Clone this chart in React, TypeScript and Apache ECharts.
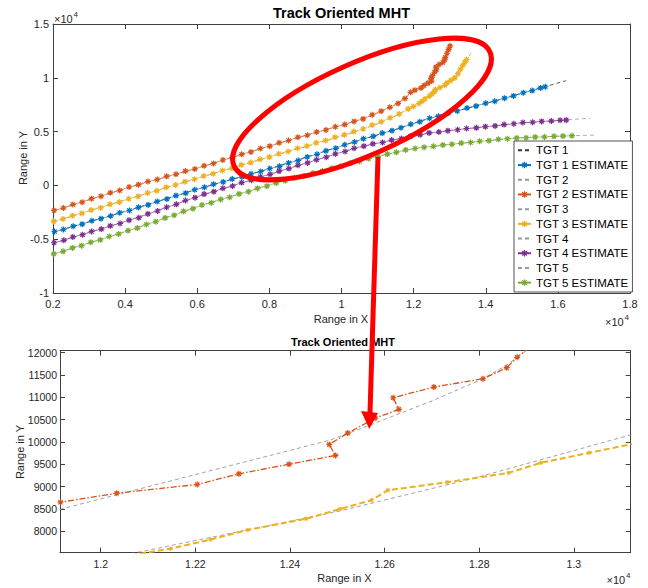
import React, { useEffect, useRef } from 'react';
import * as echarts from 'echarts';

// ---------- DATA ----------
// Truth trajectories
const tgt1X = [2000, 4000, 6000, 8000, 10000, 11500, 12500, 13500, 14500, 15500, 16222];
const tgt1Y = [-4350, -2420, -350, 1540, 3680, 5200, 6330, 7190, 8080, 9040, 9731];
const tgt2X = [2000, 4000, 6000, 8000, 9000, 10000, 10500, 11000, 11500, 11915, 12200, 12485, 12569, 12700, 12808, 12858, 12930, 12995];
const tgt2Y = [-2380, -300, 1600, 3650, 4650, 5600, 6080, 6700, 7530, 8494, 9270, 10042, 10378, 10920, 11417, 11724, 12280, 13100];
const tgt3X = [2000, 4000, 6000, 8000, 10000, 11000, 11500, 12076, 12506, 12787, 13118, 13350, 13587];
const tgt3Y = [-3400, -1350, 650, 2650, 4550, 5700, 6450, 7523, 8456, 9183, 10154, 11100, 12277];
const tgt4X = [2000, 4000, 6000, 8000, 10000, 11000, 12000, 13000, 14000, 15000, 16000, 16896];
const tgt4Y = [-5400, -3350, -1050, 1000, 3100, 3950, 4600, 5100, 5450, 5800, 6050, 6236];
const tgt5X = [2000, 4000, 6000, 8000, 10000, 11000, 12000, 13000, 14000, 15000, 16000, 17082];
const tgt5Y = [-6400, -4300, -1980, 80, 1850, 2700, 3420, 3800, 4150, 4430, 4580, 4684];

// Estimates
const est1X = [2040, 2290, 2560, 2810, 3080, 3330, 3600, 3850, 4120, 4370, 4640, 4890, 5160, 5410, 5680, 5930, 6200, 6450, 6720, 6970, 7240, 7490, 7760, 8010, 8280, 8530, 8800, 9050, 9320, 9570, 9840, 10090, 10360, 10610, 10880, 11130, 11400, 11650, 11920, 12170, 12440, 12690, 12960, 13210, 13480, 13730, 14000, 14250, 14520, 14770, 15040, 15290, 15520, 15650];
const est1Y = [-4290, -4100, -3790, -3600, -3280, -3090, -2840, -2540, -2330, -2040, -1810, -1490, -1260, -950, -720, -400, -170, 110, 320, 600, 800, 1080, 1290, 1570, 1770, 2080, 2320, 2640, 2890, 3210, 3450, 3780, 4030, 4340, 4560, 4860, 5090, 5360, 5690, 5920, 6240, 6430, 6720, 6920, 7190, 7370, 7640, 7820, 8110, 8320, 8610, 8810, 9060, 9170];
const est2X = [2030, 2290, 2550, 2810, 3070, 3330, 3590, 3850, 4110, 4370, 4630, 4890, 5150, 5410, 5670, 5930, 6190, 6450, 6710, 6970, 7230, 7490, 7750, 8010, 8270, 8530, 8790, 9050, 9310, 9570, 9830, 10090, 10350, 10600, 10850, 11100, 11340, 11570, 11760, 11915, 12034, 12204, 12292, 12398, 12496, 12483, 12522, 12580, 12630, 12618, 12704, 12808, 12858, 12880, 12925, 12970, 13010];
const est2Y = [-2330, -2100, -1780, -1560, -1230, -1010, -690, -470, -150, 70, 360, 550, 840, 1030, 1330, 1520, 1820, 2040, 2360, 2580, 2890, 3110, 3430, 3650, 3960, 4170, 4470, 4660, 4960, 5150, 5450, 5650, 5950, 6180, 6560, 6900, 7260, 7620, 8080, 8651, 8853, 9048, 9286, 9503, 9698, 9945, 10199, 10535, 10730, 10991, 11231, 11417, 11664, 11897, 12280, 12640, 12960];
const est3X = [2020, 2280, 2540, 2800, 3060, 3320, 3580, 3840, 4100, 4360, 4620, 4880, 5140, 5400, 5660, 5920, 6180, 6440, 6700, 6960, 7220, 7480, 7740, 8000, 8260, 8520, 8780, 9040, 9300, 9560, 9820, 10080, 10340, 10600, 10850, 11100, 11350, 11600, 11850, 11990, 12148, 12232, 12311, 12434, 12506, 12572, 12607, 12732, 12862, 12930, 13032, 13140, 13230, 13300, 13360, 13420, 13470];
const est3Y = [-3340, -3120, -2810, -2600, -2280, -2070, -1760, -1550, -1240, -1020, -710, -490, -180, 40, 350, 570, 880, 1090, 1390, 1600, 1910, 2120, 2420, 2630, 2940, 3150, 3450, 3660, 3970, 4180, 4480, 4700, 5000, 5240, 5620, 5910, 6290, 6640, 7110, 7330, 7610, 7814, 8030, 8280, 8500, 8696, 8920, 9099, 9308, 9533, 9757, 9990, 10380, 10800, 11150, 11450, 11700];
const est4X = [2030, 2300, 2550, 2820, 3070, 3340, 3590, 3860, 4110, 4380, 4630, 4900, 5150, 5420, 5670, 5940, 6190, 6460, 6710, 6980, 7230, 7500, 7750, 8020, 8270, 8540, 8790, 9060, 9310, 9580, 9830, 10100, 10350, 10620, 10870, 11140, 11390, 11660, 11910, 12180, 12430, 12700, 12950, 13220, 13470, 13740, 13990, 14260, 14510, 14780, 15030, 15300, 15550, 15820, 16060, 16230];
const est4Y = [-5330, -5100, -4800, -4580, -4280, -4060, -3760, -3540, -3230, -3000, -2650, -2380, -2030, -1760, -1410, -1140, -810, -580, -270, -50, 260, 490, 800, 1030, 1330, 1560, 1870, 2090, 2390, 2620, 2930, 3150, 3450, 3650, 3860, 3990, 4210, 4350, 4560, 4700, 4880, 4960, 5090, 5170, 5290, 5350, 5460, 5530, 5650, 5730, 5840, 5870, 5950, 5980, 6050, 6070];
const est5X = [2020, 2280, 2540, 2790, 3050, 3310, 3560, 3820, 4080, 4340, 4590, 4850, 5110, 5360, 5620, 5880, 6130, 6390, 6650, 6900, 7160, 7420, 7670, 7930, 8190, 8440, 8700, 8960, 9210, 9470, 9730, 9980, 10240, 10500, 10750, 11010, 11270, 11520, 11780, 12040, 12290, 12550, 12810, 13060, 13320, 13580, 13830, 14090, 14350, 14600, 14860, 15120, 15370, 15630, 15890, 16140, 16390];
const est5Y = [-6360, -6130, -5810, -5600, -5280, -5060, -4750, -4520, -4200, -3970, -3630, -3370, -3020, -2770, -2410, -2160, -1820, -1610, -1300, -1100, -790, -580, -280, -70, 230, 430, 700, 880, 1150, 1330, 1600, 1770, 2050, 2230, 2490, 2680, 2910, 3070, 3300, 3430, 3550, 3630, 3760, 3820, 3930, 3990, 4100, 4160, 4280, 4340, 4410, 4430, 4490, 4500, 4560, 4580, 4620];

const truthNames = ['TGT 1', 'TGT 2', 'TGT 3', 'TGT 4', 'TGT 5'];
const estNames = ['TGT 1 ESTIMATE', 'TGT 2 ESTIMATE', 'TGT 3 ESTIMATE', 'TGT 4 ESTIMATE', 'TGT 5 ESTIMATE'];

// Bottom (zoomed) axis ticks
const bottomXTicks = [12000, 12200, 12400, 12600, 12800, 13000];
const bottomYTicks = [8000, 8500, 9000, 9500, 10000, 10500, 11000, 11500, 12000];

// ---------- STYLE ----------
const FONT = '"Liberation Sans", Arial, Helvetica, sans-serif';
const COLORS = ['#0072BD', '#D95319', '#EDB120', '#7E2F8E', '#77AC30'];
const STAR =
  'path://M-1,-0.2L1,-0.2L1,0.2L-1,0.2Z M0.2,-1L0.2,1L-0.2,1L-0.2,-1Z M-0.566,-0.848L0.848,0.566L0.566,0.848L-0.848,-0.566Z M-0.848,0.566L0.566,-0.848L0.848,-0.566L-0.566,0.848Z';
const AX = { color: '#404040', width: 1 };

const zip = (xs: number[], ys: number[]) => xs.map((x, i) => [x, ys[i]]);

const truthX = [tgt1X, tgt2X, tgt3X, tgt4X, tgt5X];
const truthY = [tgt1Y, tgt2Y, tgt3Y, tgt4Y, tgt5Y];
const estX = [est1X, est2X, est3X, est4X, est5X];
const estY = [est1Y, est2Y, est3Y, est4Y, est5Y];

export default function App() {
  const ref = useRef<HTMLDivElement>(null);

  useEffect(() => {
    const chart = echarts.init(ref.current!, null, { renderer: 'svg' });

    const series: any[] = [];
    const legendData: string[] = [];
    for (let k = 0; k < 5; k++) {
      legendData.push(truthNames[k], estNames[k]);
      series.push({
        type: 'line',
        name: truthNames[k],
        xAxisIndex: 0,
        yAxisIndex: 0,
        data: zip(truthX[k], truthY[k]),
        symbol: 'none',
        silent: true,
        itemStyle: { color: 'rgba(0,0,0,0)' },
        lineStyle: { color: k === 0 ? '#333333' : '#9a9a9a', width: 0.8, type: [4, 3] },
        z: 2,
      });
      series.push({
        type: 'line',
        name: estNames[k],
        xAxisIndex: 0,
        yAxisIndex: 0,
        data: zip(estX[k], estY[k]),
        symbol: STAR,
        symbolSize: 6,
        showSymbol: true,
        itemStyle: { color: COLORS[k] },
        lineStyle: { color: COLORS[k], width: 0.6 },
        z: 3,
      });
    }

    // bottom zoomed plot: targets 2 and 3
    series.push({
      type: 'line', name: 'z-truth2', xAxisIndex: 2, yAxisIndex: 2,
      data: zip(tgt2X, tgt2Y), symbol: 'none', silent: true,
      lineStyle: { color: '#8c8c8c', width: 0.8, type: [4, 3] }, z: 2,
    });
    series.push({
      type: 'line', name: 'z-truth3', xAxisIndex: 2, yAxisIndex: 2,
      data: zip(tgt3X, tgt3Y), symbol: 'none', silent: true,
      lineStyle: { color: '#8c8c8c', width: 0.8, type: [4, 3] }, z: 2,
    });
    series.push({
      type: 'line', name: 'z-est2', xAxisIndex: 2, yAxisIndex: 2,
      data: zip(est2X, est2Y), symbol: STAR, symbolSize: 6,
      itemStyle: { color: COLORS[1] },
      lineStyle: { color: COLORS[1], width: 1.3, type: [6, 2, 1.5, 2] }, z: 3,
    });
    series.push({
      type: 'line', name: 'z-est3', xAxisIndex: 2, yAxisIndex: 2,
      data: zip(est3X, est3Y), symbol: STAR, symbolSize: 4.5,
      itemStyle: { color: COLORS[2] },
      lineStyle: { color: COLORS[2], width: 2, type: [6, 3] }, z: 3,
    });

    const label = (extra: any) => ({ color: '#262626', fontSize: 11, fontFamily: FONT, ...extra });
    const txt = (text: string, x: number, y: number, size: number, extra: any = {}, el: any = {}) => ({
      type: 'text', x, y, z: 50, ...el,
      style: { text, fill: '#000', fontSize: size, fontFamily: FONT, align: 'center', verticalAlign: 'middle', ...extra },
    });

    const option: any = {
      animation: false,
      backgroundColor: '#ffffff',
      grid: [
        { left: 53, top: 24, width: 577, height: 269, containLabel: false },
        { left: 60, top: 350.7, width: 570.7, height: 202, containLabel: false },
      ],
      xAxis: [
        {
          type: 'value', gridIndex: 0, min: 2000, max: 18000, interval: 2000, position: 'bottom',
          axisLine: { onZero: false, lineStyle: AX },
          axisTick: { inside: true, length: 5, lineStyle: AX },
          axisLabel: label({ margin: 5, formatter: (v: number) => String(v / 10000) }),
          splitLine: { show: false },
        },
        {
          type: 'value', gridIndex: 0, min: 2000, max: 18000, interval: 2000, position: 'top',
          axisLine: { onZero: false, lineStyle: AX },
          axisTick: { inside: true, length: 5, lineStyle: AX },
          axisLabel: { show: false }, splitLine: { show: false },
        },
        {
          type: 'value', gridIndex: 1, min: 11914, max: 13120, position: 'bottom',
          axisLine: { onZero: false, lineStyle: AX },
          axisTick: { inside: true, length: 5, lineStyle: AX, customValues: bottomXTicks },
          axisLabel: label({ fontSize: 10.5, margin: 6, customValues: bottomXTicks, formatter: (v: number) => String(v / 10000) }),
          splitLine: { show: false },
        },
        {
          type: 'value', gridIndex: 1, min: 11914, max: 13120, position: 'top',
          axisLine: { onZero: false, lineStyle: AX },
          axisTick: { inside: true, length: 5, lineStyle: AX, customValues: bottomXTicks },
          axisLabel: { show: false, customValues: bottomXTicks }, splitLine: { show: false },
        },
      ],
      yAxis: [
        {
          type: 'value', gridIndex: 0, min: -10000, max: 15000, interval: 5000, position: 'left',
          axisLine: { onZero: false, lineStyle: AX },
          axisTick: { inside: true, length: 5, lineStyle: AX },
          axisLabel: label({ margin: 4, formatter: (v: number) => String(v / 10000) }),
          splitLine: { show: false },
        },
        {
          type: 'value', gridIndex: 0, min: -10000, max: 15000, interval: 5000, position: 'right',
          axisLine: { onZero: false, lineStyle: AX },
          axisTick: { inside: true, length: 5, lineStyle: AX },
          axisLabel: { show: false }, splitLine: { show: false },
        },
        {
          type: 'value', gridIndex: 1, min: 7520, max: 12045, position: 'left',
          axisLine: { onZero: false, lineStyle: AX },
          axisTick: { inside: true, length: 5, lineStyle: AX, customValues: bottomYTicks },
          axisLabel: label({ fontSize: 10.5, margin: 3, customValues: bottomYTicks, formatter: (v: number) => String(v) }),
          splitLine: { show: false },
        },
        {
          type: 'value', gridIndex: 1, min: 7520, max: 12045, position: 'right',
          axisLine: { onZero: false, lineStyle: AX },
          axisTick: { inside: true, length: 5, lineStyle: AX, customValues: bottomYTicks },
          axisLabel: { show: false, customValues: bottomYTicks }, splitLine: { show: false },
        },
      ],
      legend: {
        orient: 'vertical',
        left: 514,
        top: 141,
        padding: [2, 4, 2, 3],
        itemGap: 0,
        itemWidth: 13,
        itemHeight: 8,
        selectedMode: false,
        backgroundColor: '#ffffff',
        borderColor: '#262626',
        borderWidth: 0.8,
        borderRadius: 0,
        textStyle: { fontSize: 11.5, fontFamily: FONT, color: '#000', lineHeight: 14.7 },
        data: legendData,
        z: 10,
      },
      series,
      graphic: [
        // top plot texts
        txt('Track Oriented MHT', 341.5, 13, 14.5, { fontWeight: 'bold' }),
        txt('Range in X', 341, 319, 11, { fill: '#262626' }),
        txt('Range in Y', 23, 158, 11, { fill: '#262626' }, { rotation: Math.PI / 2 }),
        txt('×10', 54, 19, 11, { align: 'left', fill: '#262626' }),
        txt('4', 73.5, 14.5, 8, { align: 'left', fill: '#262626' }),
        txt('×10', 605, 322, 11, { align: 'left', fill: '#262626' }),
        txt('4', 624.5, 317.5, 8, { align: 'left', fill: '#262626' }),
        // bottom plot texts
        txt('Track Oriented MHT', 343, 342, 11, { fontWeight: 'bold' }),
        txt('Range in X', 344.5, 578, 11, { fill: '#262626' }),
        txt('Range in Y', 20, 452, 11, { fill: '#262626' }, { rotation: Math.PI / 2 }),
        txt('×10', 606.5, 580, 11, { align: 'left', fill: '#262626' }),
        txt('4', 626, 575.5, 8, { align: 'left', fill: '#262626' }),
        // red annotations
        {
          type: 'ellipse', x: 362, y: 109, rotation: (24 * Math.PI) / 180, z: 100,
          shape: { cx: 0, cy: 0, rx: 140, ry: 46 },
          style: { fill: 'none', stroke: '#FF0000', lineWidth: 5 },
        },
        {
          type: 'line', z: 100,
          shape: { x1: 378, y1: 157, x2: 370, y2: 413 },
          style: { stroke: '#FF0000', lineWidth: 5 },
        },
        {
          type: 'polygon', z: 100,
          shape: { points: [[361, 411], [378, 413], [369.3, 429]] },
          style: { fill: '#FF0000' },
        },
      ],
    };

    chart.setOption(option);
    return () => chart.dispose();
  }, []);

  return (
    <div
      ref={ref}
      style={{ position: 'fixed', left: 0, top: 0, width: 648, height: 588, background: '#fff' }}
    />
  );
}
